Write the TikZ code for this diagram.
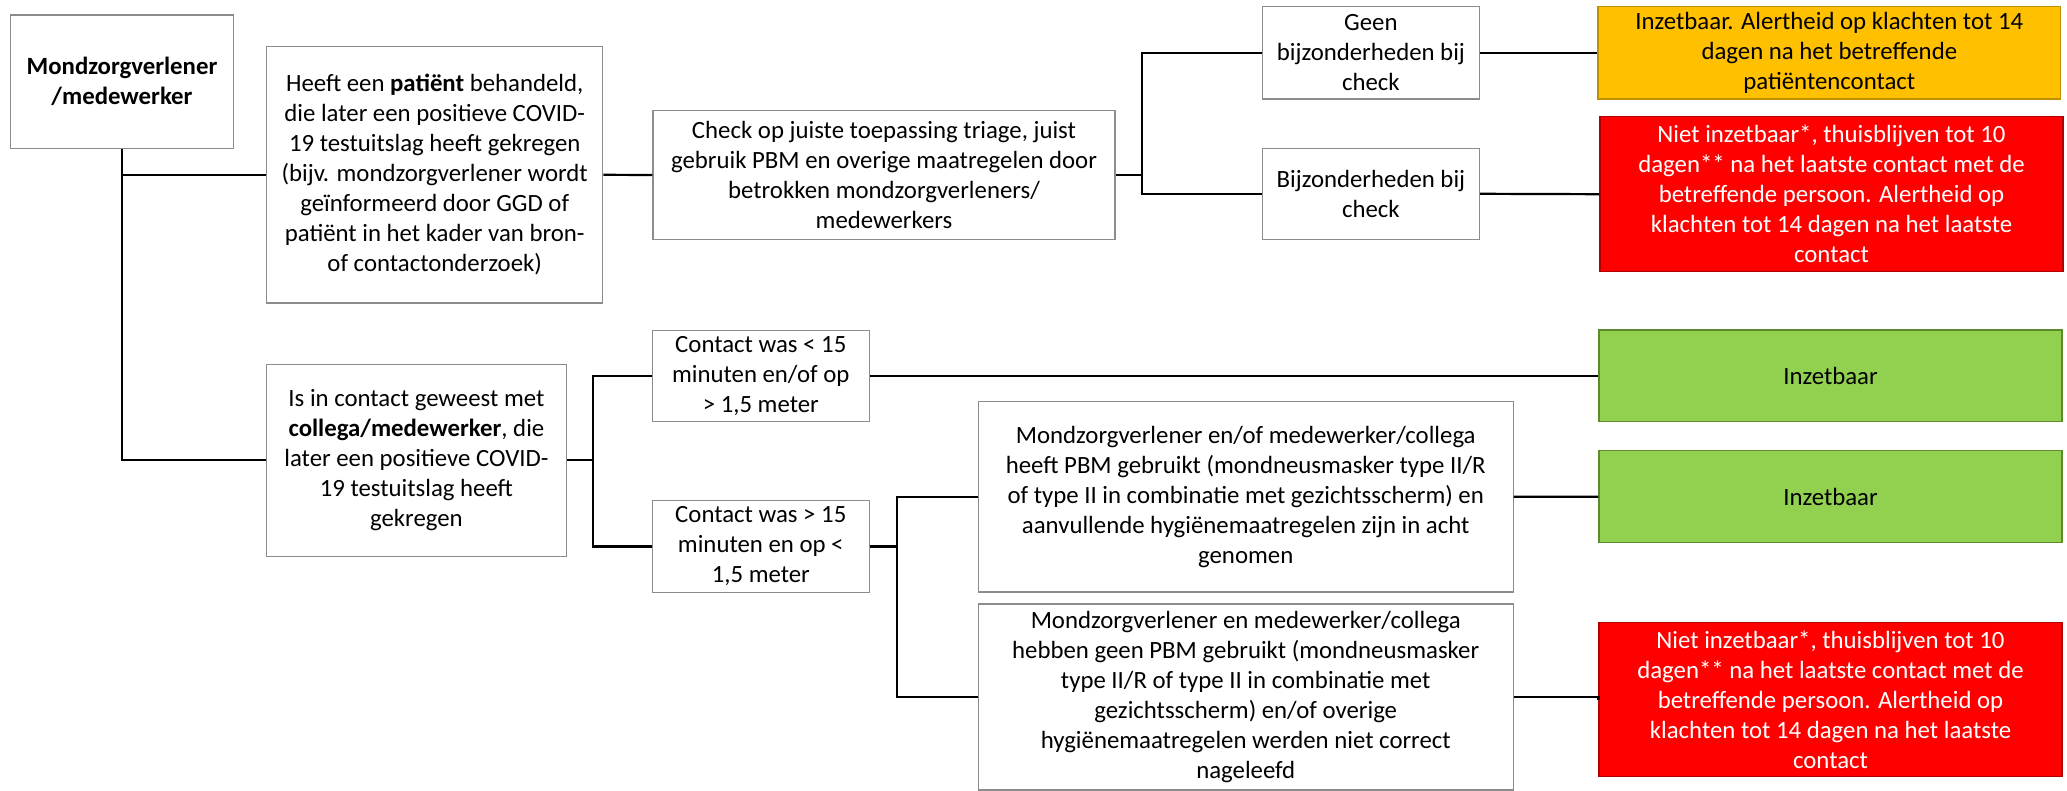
\documentclass[tikz,border=0pt]{standalone}
\usepackage{fontspec}
\setmainfont{Carlito}
\definecolor{cyYellow}{HTML}{FFC000}
\definecolor{cyYellowD}{HTML}{C09000}
\definecolor{cyRed}{HTML}{FF0000}
\definecolor{cyRedD}{HTML}{B00000}
\definecolor{cyGreen}{HTML}{92D050}
\definecolor{cyGreenD}{HTML}{5E8A2E}
\definecolor{cyGrey}{HTML}{8C8C8C}
\tikzset{
  box/.style={draw=cyGrey, line width=0.6pt, fill=white, align=center, inner sep=0pt,
    font=\fontsize{12.4}{15}\selectfont, text=black},
  ybox/.style={box, fill=cyYellow, draw=cyYellowD},
  rbox/.style={box, fill=cyRed, draw=cyRedD, text=white},
  gbox/.style={box, fill=cyGreen, draw=cyGreenD},
  conn/.style={line width=1.1pt, draw=black}
}
\begin{document}
\begin{tikzpicture}[x=0.5pt,y=-0.5pt]
\useasboundingbox (0,0) rectangle (2067,791);
% left column
\node[box, minimum width=111.3pt, minimum height=66.7pt] (A) at (122,81.7)
  {\textbf{Mondzorgverlener}\\\textbf{/medewerker}};
\node[box, minimum width=168pt, minimum height=128.2pt] (B) at (434.7,174.8)
  {Heeft een \textbf{patiënt} behandeld,\\die later een positieve COVID-\\19 testuitslag heeft gekregen\\(bijv. mondzorgverlener wordt\\geïnformeerd door GGD of\\patiënt in het kader van bron-\\of contactonderzoek)};
\node[box, minimum width=150pt, minimum height=96pt] (C) at (416.4,460.3)
  {Is in contact geweest met\\\textbf{collega/medewerker}, die\\later een positieve COVID-\\19 testuitslag heeft\\gekregen};
% upper branch
\node[box, minimum width=231pt, minimum height=64.3pt] (Ck) at (884,175)
  {Check op juiste toepassing triage, juist\\gebruik PBM en overige maatregelen door\\betrokken mondzorgverleners/\\medewerkers};
\node[box, minimum width=108.6pt, minimum height=46.2pt] (G1) at (1370.9,52.85)
  {Geen\\bijzonderheden bij\\check};
\node[box, minimum width=108.6pt, minimum height=45.5pt] (G2) at (1370.9,193.8)
  {Bijzonderheden bij\\check};
\node[ybox, minimum width=231.3pt, minimum height=46.2pt] (Y) at (1829.3,52.85)
  {Inzetbaar. Alertheid op klachten tot 14\\dagen na het betreffende\\patiëntencontact};
\node[rbox, minimum width=231.5pt, minimum height=77.5pt] (R1) at (1831.5,194.2)
  {Niet inzetbaar*, thuisblijven tot 10\\dagen** na het laatste contact met de\\betreffende persoon. Alertheid op\\klachten tot 14 dagen na het laatste\\contact};
% lower branch
\node[box, minimum width=108.5pt, minimum height=45.4pt] (D1) at (760.8,375.7)
  {Contact was < 15\\minuten en/of op\\> 1,5 meter};
\node[box, minimum width=108.5pt, minimum height=45.8pt] (D2) at (760.8,546.5)
  {Contact was > 15\\minuten en op <\\1,5 meter};
\node[box, minimum width=267.4pt, minimum height=95.2pt] (E1) at (1245.7,496.8)
  {Mondzorgverlener en/of medewerker/collega\\heeft PBM gebruikt (mondneusmasker type II/R\\of type II in combinatie met gezichtsscherm) en\\aanvullende hygiënemaatregelen zijn in acht\\genomen};
\node[box, minimum width=267.4pt, minimum height=93pt] (E2) at (1245.7,697)
  {Mondzorgverlener en medewerker/collega\\hebben geen PBM gebruikt (mondneusmasker\\type II/R of type II in combinatie met\\gezichtsscherm) en/of overige\\hygiënemaatregelen werden niet correct\\nageleefd};
\node[gbox, minimum width=231.5pt, minimum height=45.7pt] (Gr1) at (1830.5,375.7) {Inzetbaar};
\node[gbox, minimum width=231.5pt, minimum height=46pt] (Gr2) at (1830.5,496.7) {Inzetbaar};
\node[rbox, minimum width=231.5pt, minimum height=77.2pt] (R2) at (1830.5,699.5)
  {Niet inzetbaar*, thuisblijven tot 10\\dagen** na het laatste contact met de\\betreffende persoon. Alertheid op\\klachten tot 14 dagen na het laatste\\contact};
% split points
\coordinate (s1) at (1141.7,175);
\coordinate (s2) at (592.7,460.7);
\coordinate (s3) at (896.7,546.7);
% connectors
\draw[conn] (A.south) |- (C.west);
\draw[conn] (A.south |- B.west) -- (B.west);
\draw[conn] (B.east) -- (Ck.west);
\draw[conn] (Ck.east) -- (Ck.east -| s1);
\draw[conn] (G1.west) -| (s1 |- G2.west) -- (G2.west);
\draw[conn] (G1.east) -- (Y.west);
\draw[conn] (G2.east) -- (R1.west);
\draw[conn] (C.east) -- (C.east -| s2);
\draw[conn] (D1.west) -| (s2 |- D2.west) -- (D2.west);
\draw[conn] (D1.east) -- (Gr1.west);
\draw[conn] (D2.east) -- (D2.east -| s3);
\draw[conn] (E1.west) -| (s3 |- E2.west) -- (E2.west);
\draw[conn] (E1.east) -- (Gr2.west);
\draw[conn] (E2.east) -- (E2.east -| R2.west) -- (R2.west);
\end{tikzpicture}
\end{document}
